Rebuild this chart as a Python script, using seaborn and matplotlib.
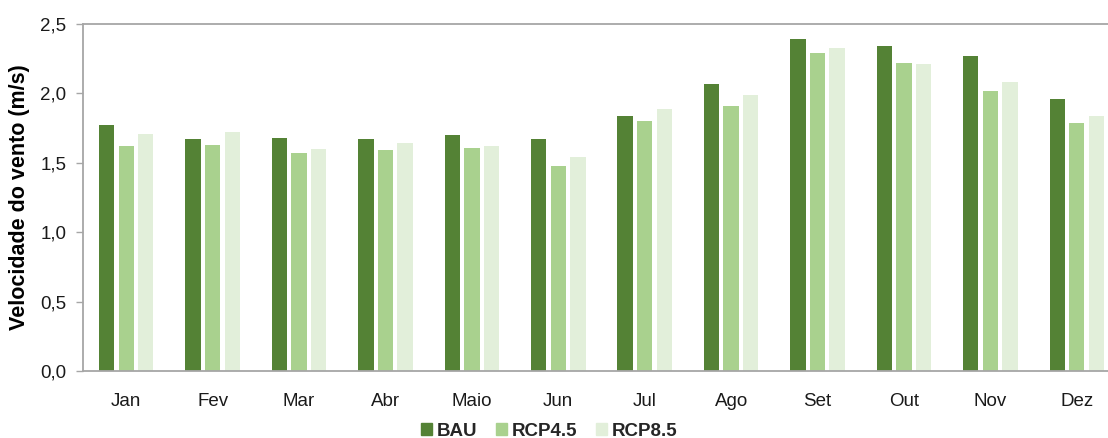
import matplotlib
matplotlib.use("Agg")
import matplotlib.pyplot as plt
from matplotlib.ticker import FuncFormatter
import seaborn as sns
import pandas as pd

months = ["Jan", "Fev", "Mar", "Abr", "Maio", "Jun", "Jul", "Ago", "Set", "Out", "Nov", "Dez"]
scenarios = ["BAU", "RCP4.5", "RCP8.5"]
bau = [1.77, 1.67, 1.68, 1.67, 1.70, 1.67, 1.84, 2.07, 2.39, 2.34, 2.27, 1.96]
rcp45 = [1.62, 1.63, 1.57, 1.59, 1.61, 1.48, 1.80, 1.91, 2.29, 2.22, 2.02, 1.79]
rcp85 = [1.71, 1.72, 1.60, 1.64, 1.62, 1.54, 1.89, 1.99, 2.33, 2.21, 2.08, 1.84]
colors = ["#548235", "#A9D18E", "#E2EFDA"]

df = pd.DataFrame({
    "Mês": months * 3,
    "Cenário": [s for s in scenarios for _ in months],
    "Velocidade": bau + rcp45 + rcp85,
})

sns.set_theme(style="white")
plt.rcParams["font.family"] = ["Liberation Sans", "DejaVu Sans"]

fig = plt.figure(figsize=(11.08, 4.38), dpi=100)
ax = fig.add_axes([83 / 1108, 67 / 438, 1037 / 1108, 347 / 438])

sns.barplot(data=df, x="Mês", y="Velocidade", hue="Cenário", order=months,
            hue_order=scenarios, palette=colors, width=0.68, gap=0.22,
            saturation=1, edgecolor="none", ax=ax)

ax.set_ylim(0, 2.5)
ax.set_yticks([0, 0.5, 1.0, 1.5, 2.0, 2.5])
ax.yaxis.set_major_formatter(FuncFormatter(lambda v, _: f"{v:.1f}".replace(".", ",")))
ax.set_xlim(-0.5, 11.5)
ax.set_xlabel("")
ax.set_ylabel("Velocidade do vento (m/s)", fontsize=15.5, fontweight="bold",
              color="#000000", labelpad=7)

gray = "#a6a6a6"
for side in ["left", "bottom", "top", "right"]:
    ax.spines[side].set_color(gray)
    ax.spines[side].set_linewidth(1.3)
ax.tick_params(axis="y", which="major", left=True, length=5, width=1.0,
               color=gray, labelsize=13.5, labelcolor="#1a1a1a", pad=7)
ax.tick_params(axis="x", bottom=False, labelsize=13.5, labelcolor="#1a1a1a", pad=10)

ax.get_legend().remove()
handles = [plt.Rectangle((0, 0), 1, 1, color=c) for c in colors]
fig.legend(handles, scenarios, loc="center", bbox_to_anchor=(549 / 1108, 7 / 438),
           ncol=3, frameon=False, handlelength=0.6, handleheight=0.6,
           handletextpad=0.25, columnspacing=1.0, borderpad=0.1,
           prop={"weight": "bold", "size": 13.5})

fig.savefig("out.png", dpi=100)
